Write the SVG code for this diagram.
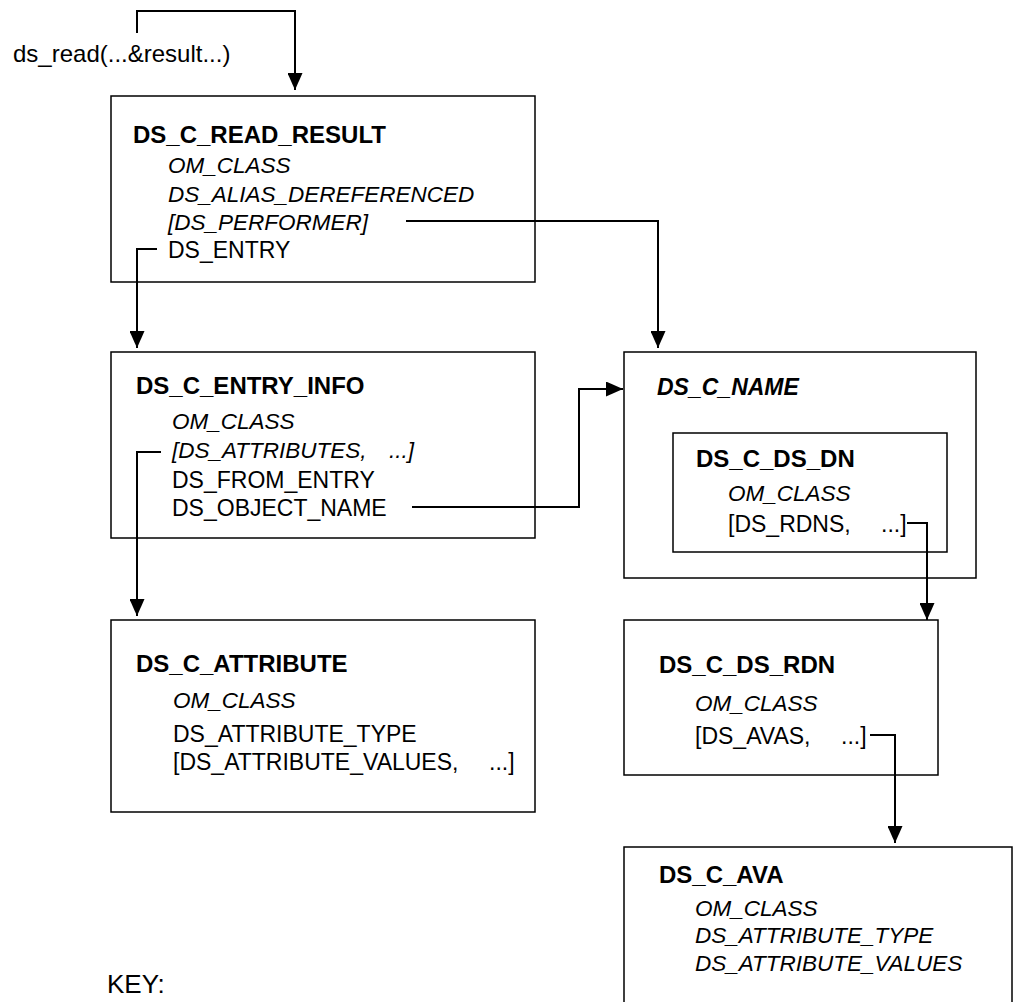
<svg xmlns="http://www.w3.org/2000/svg" width="1013" height="1002" viewBox="0 0 1013 1002">
<style>
text{font-family:"Liberation Sans",Arial,Helvetica,sans-serif;font-size:23px;fill:#000;white-space:pre}
.t{font-weight:bold;font-size:24px}
.i{font-style:italic;font-size:22.5px}
.ti{font-weight:bold;font-style:italic;font-size:23px}
.big{font-size:24px}
.key{font-size:26px}
.box{fill:none;stroke:#000;stroke-width:1.5}
.con{fill:none;stroke:#000;stroke-width:2}
</style>
<defs>
<marker id="ah" viewBox="0 0 17 15" refX="17" refY="7.5" markerWidth="17" markerHeight="15" markerUnits="userSpaceOnUse" orient="auto">
<path d="M0,0 L17,7.5 L0,15 Z" fill="#000"/>
</marker>
</defs>
<rect width="1013" height="1002" fill="#fff"/>
<text class="big" x="13" y="62">ds_read(...&amp;result...)</text>
<g id="read_result">
<rect class="box" x="111" y="96" width="424" height="186"/>
<text class="t" x="133" y="143">DS_C_READ_RESULT</text>
<text class="i" x="168" y="173">OM_CLASS</text>
<text class="i" x="168" y="202">DS_ALIAS_DEREFERENCED</text>
<text class="i" x="168" y="230">[DS_PERFORMER]</text>
<text x="168" y="258">DS_ENTRY</text>
</g>
<g id="entry_info">
<rect class="box" x="111" y="352" width="424" height="186"/>
<text class="t" x="136" y="394">DS_C_ENTRY_INFO</text>
<text class="i" x="172" y="429">OM_CLASS</text>
<text class="i" x="172" y="458">[DS_ATTRIBUTES,<tspan x="389">...]</tspan></text>
<text x="172" y="488">DS_FROM_ENTRY</text>
<text x="172" y="516">DS_OBJECT_NAME</text>
</g>
<g id="name">
<rect class="box" x="624" y="352" width="352" height="226"/>
<text class="ti" x="657" y="395">DS_C_NAME</text>
</g>
<g id="ds_dn">
<rect class="box" x="673" y="433" width="274" height="119"/>
<text class="t" x="696" y="467">DS_C_DS_DN</text>
<text class="i" x="728" y="501">OM_CLASS</text>
<text x="728" y="532">[DS_RDNS,<tspan x="881">...]</tspan></text>
</g>
<g id="attribute">
<rect class="box" x="111" y="620" width="424" height="192"/>
<text class="t" x="136" y="672">DS_C_ATTRIBUTE</text>
<text class="i" x="173" y="708">OM_CLASS</text>
<text x="173" y="742">DS_ATTRIBUTE_TYPE</text>
<text x="173" y="770">[DS_ATTRIBUTE_VALUES,<tspan x="489">...]</tspan></text>
</g>
<g id="ds_rdn">
<rect class="box" x="624" y="620" width="314" height="155"/>
<text class="t" x="659" y="673">DS_C_DS_RDN</text>
<text class="i" x="695" y="711">OM_CLASS</text>
<text x="695" y="744">[DS_AVAS,<tspan x="841">...]</tspan></text>
</g>
<g id="ava">
<rect class="box" x="624" y="847" width="388" height="170"/>
<text class="t" x="659" y="883">DS_C_AVA</text>
<text class="i" x="695" y="916">OM_CLASS</text>
<text class="i" x="695" y="943">DS_ATTRIBUTE_TYPE</text>
<text class="i" x="695" y="971">DS_ATTRIBUTE_VALUES</text>
</g>
<text class="key" x="107" y="993">KEY:</text>
<g id="connectors">
<path class="con" d="M137,33 V11 H295 V90" marker-end="url(#ah)"/>
<path class="con" d="M406,221 H658 V348" marker-end="url(#ah)"/>
<path class="con" d="M157,249 H137 V348" marker-end="url(#ah)"/>
<path class="con" d="M161,452 H137 V616" marker-end="url(#ah)"/>
<path class="con" d="M412,507 H579 V389 H623" marker-end="url(#ah)"/>
<path class="con" d="M907,523 H927 V620" marker-end="url(#ah)"/>
<path class="con" d="M870,735 H895 V843" marker-end="url(#ah)"/>
</g>
</svg>
